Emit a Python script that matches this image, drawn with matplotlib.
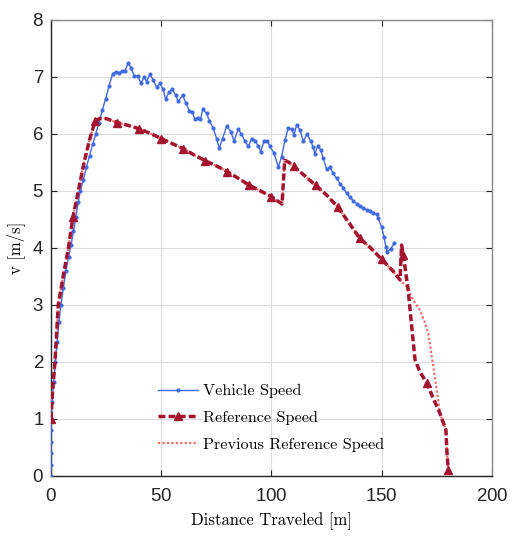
import matplotlib
matplotlib.use("Agg")
import matplotlib.pyplot as plt
from matplotlib.lines import Line2D

# ---- data -------------------------------------------------------------
veh_x = [0, 0, 0, 0, 0, 0.2, 0.6, 1.2, 2.0, 2.8, 3.6, 4.5, 5.6, 6.8, 8.0, 9.1,
         10.2, 11.3, 12.3, 13.3, 14.7, 16.1, 17.5, 18.9, 20.3, 21.8, 23.3, 24.8,
         26.3, 28.0, 29.5, 30.8, 32.3, 33.5, 35.1, 36.3, 37.8, 39.3, 40.8, 42.3,
         43.4, 44.9, 46.4, 47.9, 49.4, 50.9, 52.0, 53.5, 55.0, 56.5, 57.7, 59.7,
         61.2, 62.7, 63.8, 65.3, 66.8, 67.8, 68.8, 70.6, 71.8, 73.6, 75.1, 76.3,
         77.8, 79.7, 81.5, 83.0, 84.9, 86.4, 87.9, 89.5, 91.0, 92.5, 94.0, 95.1,
         96.6, 98.1, 99.3, 101.1, 103.1, 104.6, 106.1, 107.6, 109.1, 110.2, 111.4,
         112.9, 114.4, 116.2, 117.7, 118.9, 119.7, 121.0, 122.3, 123.5, 125.0,
         126.5, 128.0, 129.5, 131.1, 132.6, 134.1, 135.6, 137.1, 138.6, 140.1,
         141.6, 143.2, 144.7, 146.2, 147.7, 148.4, 149.9, 151.0, 151.9, 152.5,
         154.0, 155.6]
veh_v = [0, 0.2, 0.4, 0.6, 0.8, 1.0, 1.3, 1.65, 2.0, 2.35, 2.7, 3.0, 3.3, 3.6, 3.85,
         4.05, 4.3, 4.55, 4.8, 5.0, 5.2, 5.42, 5.62, 5.82, 6.0, 6.2, 6.42, 6.62,
         6.84, 7.06, 7.09, 7.07, 7.11, 7.10, 7.25, 7.15, 7.02, 7.02, 6.89, 7.0,
         6.92, 7.05, 6.94, 6.82, 6.89, 6.78, 6.61, 6.73, 6.79, 6.68, 6.57, 6.68,
         6.54, 6.41, 6.39, 6.26, 6.28, 6.26, 6.43, 6.36, 6.23, 6.10, 5.92, 5.75,
         5.92, 6.14, 6.04, 5.88, 6.08, 6.0, 5.88, 5.78, 5.92, 5.88, 5.79, 5.69,
         5.87, 5.88, 5.78, 5.67, 5.42, 5.60, 5.89, 6.10, 6.09, 5.98, 6.16, 6.07,
         5.87, 6.0, 5.88, 5.77, 5.65, 5.79, 5.72, 5.57, 5.38, 5.42, 5.31, 5.22,
         5.13, 5.05, 4.96, 4.89, 4.83, 4.78, 4.74, 4.70, 4.67, 4.64, 4.61, 4.59,
         4.52, 4.37, 4.20, 4.02, 3.93, 3.98, 4.08]

ref_x = [0, 0.75, 1.8, 3.3, 5.5, 7.9, 10, 12.4, 15, 17.5, 20, 22, 25, 30, 35, 40,
         45, 50, 55, 60, 65, 70, 75, 80, 85, 90, 95, 100, 104.8, 106, 108, 110,
         115, 120, 125, 130, 135, 140, 145, 150, 155, 158.3, 159, 159.8, 162,
         163.6, 165.1, 167.3, 170.4, 173.5, 176.4, 179.1, 179.6, 180.2]
ref_v = [1.0, 1.5, 2.0, 3.0, 3.5, 4.0, 4.55, 5.0, 5.5, 5.9, 6.22, 6.27, 6.27, 6.2,
         6.15, 6.09, 6.01, 5.92, 5.83, 5.74, 5.63, 5.53, 5.44, 5.34, 5.22, 5.1,
         5.0, 4.9, 4.77, 5.54, 5.5, 5.43, 5.27, 5.1, 4.93, 4.72, 4.45, 4.17, 4.0,
         3.8, 3.6, 3.44, 4.05, 3.88, 3.26, 2.62, 2.04, 1.83, 1.63, 1.35, 1.1, 0.81,
         0.4, 0.1]
ref_markers = [0, 6, 10, 13, 15, 17, 19, 21, 23, 25, 27, 31, 33, 35, 37, 39,
               43, 48, 53]

prev_x = [0, 0.75, 1.8, 3.3, 5.5, 7.9, 10, 12.4, 15, 17.5, 20, 22, 25, 30, 35, 40,
          45, 50, 55, 60, 65, 70, 75, 80, 85, 90, 95, 100, 104.8, 106, 108, 110,
          115, 120, 125, 130, 135, 140, 145, 150, 155, 158.3, 161.3, 164, 167.3,
          169.5, 171.1, 172.3, 173.4, 175, 176.4, 179.1, 179.6, 180.2]
prev_v = [1.0, 1.5, 2.0, 3.0, 3.5, 4.0, 4.55, 5.0, 5.5, 5.9, 6.22, 6.27, 6.27, 6.2,
          6.15, 6.09, 6.01, 5.92, 5.83, 5.74, 5.63, 5.53, 5.44, 5.34, 5.22, 5.1,
          5.0, 4.9, 4.77, 5.54, 5.5, 5.43, 5.27, 5.1, 4.93, 4.72, 4.45, 4.17, 4.0,
          3.8, 3.6, 3.44, 3.32, 3.1, 2.91, 2.7, 2.5, 2.2, 1.92, 1.5, 1.1, 0.81,
          0.4, 0.1]

x_ticks = [0, 50, 100, 150, 200]
y_ticks = [0, 1, 2, 3, 4, 5, 6, 7, 8]
labels = ["Vehicle Speed", "Reference Speed", "Previous Reference Speed"]

# ---- style ------------------------------------------------------------
BLUE = "#4169E1"
DARK_RED = "#A2142F"
LIGHT_RED = "#FF6B6B"
SERIF = "cmr10"
TICK_FONT = ["Liberation Sans Narrow", "Liberation Sans", "DejaVu Sans"]

plt.rcParams["axes.formatter.use_mathtext"] = True

fig = plt.figure(figsize=(5.13, 5.39), dpi=100)
ax = fig.add_axes([0.0994, 0.1169, 0.8596, 0.8461])

ax.plot(prev_x, prev_v, color=LIGHT_RED, lw=1.6, linestyle=(0, (1, 1)), zorder=3)
ax.plot(veh_x, veh_v, color=BLUE, lw=1.0, marker="o", ms=2.0, zorder=4)
ax.plot(ref_x, ref_v, color=DARK_RED, lw=2.5, linestyle=(0, (2.0, 0.9)),
        marker="^", ms=5.8, markevery=ref_markers, markerfacecolor=DARK_RED,
        markeredgecolor=DARK_RED, zorder=5)

ax.set_xlim(0, 200)
ax.set_ylim(0, 8)
ax.set_xticks(x_ticks)
ax.set_yticks(y_ticks)
ax.grid(True, color="#dcdcdc", lw=0.8)
ax.set_axisbelow(True)

ax.tick_params(direction="in", length=4, width=0.8, colors="#262626",
               top=True, right=True, labelsize=13.5)
ax.tick_params(axis="x", pad=9)
ax.tick_params(axis="y", pad=5)
for lab in ax.get_xticklabels() + ax.get_yticklabels():
    lab.set_family(TICK_FONT)

for side in ("left", "bottom"):
    ax.spines[side].set_color("#262626")
    ax.spines[side].set_linewidth(1.0)
for side in ("top", "right"):
    ax.spines[side].set_color("#8a8a8a")
    ax.spines[side].set_linewidth(1.0)

ax.set_xlabel("Distance Traveled [m]", family=SERIF, fontsize=12, labelpad=5)
ax.set_ylabel("v [m/s]", family=SERIF, fontsize=12, labelpad=5)

handles = [
    Line2D([], [], color=BLUE, lw=1.0, marker="o", ms=2.0),
    Line2D([], [], color=DARK_RED, lw=2.5, linestyle=(0, (2.0, 0.9)),
           marker="^", ms=5.8),
    Line2D([], [], color=LIGHT_RED, lw=1.6, linestyle=(0, (1, 1))),
]
leg = ax.legend(handles, labels, loc="upper left",
                bbox_to_anchor=(158 / 513, 1 - 384 / 539),
                bbox_transform=fig.transFigure, frameon=False,
                prop={"family": SERIF, "size": 11.7}, handlelength=2.45,
                handletextpad=0.3, labelspacing=0.75, borderpad=0,
                borderaxespad=0)

fig.savefig("out.png", dpi=100, facecolor="white")
